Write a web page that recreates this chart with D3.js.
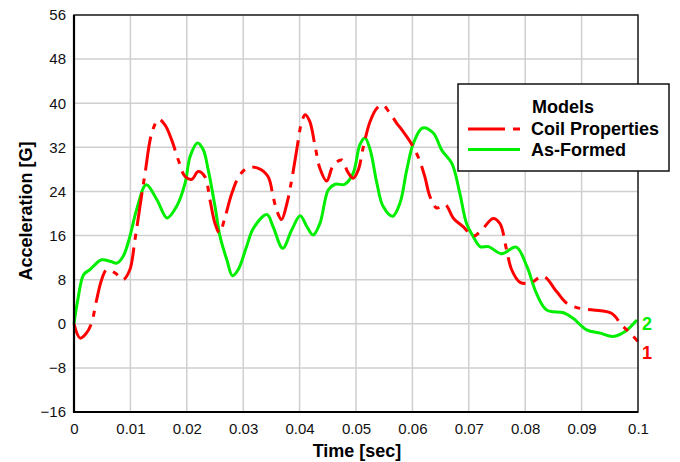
<!DOCTYPE html>
<html>
<head>
<meta charset="utf-8">
<script src="https://cdn.jsdelivr.net/npm/d3@7/dist/d3.min.js"></script>
<style>
  html, body { margin: 0; padding: 0; background: #fff; }
  svg { display: block; font-family: "Liberation Sans", Arial, sans-serif; }
</style>
</head>
<body>
<svg id="chart" width="680" height="462"></svg>
<script>
// ---- data ----
const xTicks = [0, 0.01, 0.02, 0.03, 0.04, 0.05, 0.06, 0.07, 0.08, 0.09, 0.1];
const yTicks = [-16, -8, 0, 8, 16, 24, 32, 40, 48, 56];

const coilTime = [0, 0.0011, 0.0022, 0.0031, 0.004, 0.0049, 0.0058, 0.0073, 0.0087, 0.0099,
  0.0108, 0.0117, 0.0126, 0.0138, 0.015, 0.0161, 0.0173, 0.0185, 0.0197, 0.0209,
  0.022, 0.0232, 0.0241, 0.025, 0.0258, 0.0268, 0.028, 0.0294, 0.0309, 0.0327,
  0.0344, 0.0353, 0.0359, 0.0368, 0.0377, 0.0386, 0.0395, 0.0404, 0.041, 0.0418,
  0.0427, 0.0436, 0.0448, 0.046, 0.0475, 0.0485, 0.0495, 0.0504, 0.0513, 0.0525,
  0.0537, 0.0547, 0.056, 0.0572, 0.0581, 0.0596, 0.061, 0.0622, 0.0631, 0.0643,
  0.0658, 0.0673, 0.069, 0.0708, 0.0723, 0.0743, 0.0755, 0.0767, 0.0776, 0.0791,
  0.0809, 0.0832, 0.0856, 0.0874, 0.0897, 0.0921, 0.0953, 0.0971, 0.0986, 0.1];
const coilAccel = [0, -2.6, -1.7, 0.1, 4.3, 8.0, 9.8, 9.2, 8.0, 9.8,
  15.2, 21.3, 27.3, 34.6, 37.1, 36.1, 33.4, 29.7, 26.7, 26.2,
  27.6, 26.7, 22.5, 18.2, 16.5, 19.4, 23.7, 27.0, 28.3, 28.2,
  26.7, 23.1, 20.7, 18.9, 21.6, 26.1, 31.6, 36.7, 37.9, 36.7,
  32.5, 28.2, 25.9, 28.8, 29.7, 27.6, 26.4, 27.9, 32.1, 36.7,
  39.1, 39.7, 38.2, 36.4, 35.2, 33.0, 30.3, 26.7, 23.1, 21.0,
  21.6, 19.1, 17.6, 15.9, 17.0, 19.1, 18.2, 13.4, 9.8, 7.5,
  7.4, 8.6, 5.8, 3.7, 2.8, 2.5, 1.9, -0.2, -1.7, -3.2];

const formedTime = [0, 0.0007, 0.0017, 0.0028, 0.0049, 0.0065, 0.0076, 0.0087, 0.0099, 0.0111,
  0.0128, 0.0147, 0.0165, 0.0182, 0.0197, 0.0206, 0.0219, 0.0229, 0.0238, 0.025,
  0.0259, 0.0271, 0.0281, 0.0291, 0.0306, 0.0318, 0.0342, 0.0353, 0.037, 0.0386,
  0.0401, 0.0413, 0.0424, 0.0436, 0.0451, 0.0463, 0.048, 0.0495, 0.0507, 0.0516,
  0.0525, 0.0537, 0.0548, 0.0565, 0.0578, 0.059, 0.0602, 0.0618, 0.0637, 0.0652,
  0.067, 0.0684, 0.0696, 0.0708, 0.072, 0.0735, 0.0758, 0.0784, 0.0803, 0.082,
  0.0838, 0.0868, 0.0885, 0.0909, 0.0933, 0.0956, 0.0977, 0.0998];
const formedAccel = [0, 4.5, 8.9, 9.8, 11.6, 11.3, 11.0, 12.2, 15.8, 20.7,
  25.2, 22.5, 19.2, 21.3, 25.5, 30.4, 32.8, 31.6, 27.9, 21.3,
  15.8, 11.6, 8.7, 9.8, 14.0, 17.3, 19.8, 17.6, 13.7, 17.0,
  19.6, 17.6, 16.1, 18.2, 24.3, 25.3, 25.3, 27.3, 32.5, 33.7,
  31.6, 25.5, 21.3, 19.5, 21.9, 27.9, 32.8, 35.5, 34.6, 31.5,
  29.1, 23.7, 18.2, 15.8, 14.0, 14.0, 12.7, 13.9, 10.4, 5.5,
  2.5, 2.0, 1.0, -1.1, -1.7, -2.3, -1.4, 0.7];

const seriesNames = ["Coil Properties", "As-Formed"];
const seriesColors = ["#ff0000", "#00ee00"];
const endLabels = ["1", "2"];

// ---- layout ----
const svg = d3.select("#chart");
const L = 74, R = 638, T = 15, B = 412;
const x = d3.scaleLinear().domain([0, 0.1]).range([L, R]);
const y = d3.scaleLinear().domain([-16, 56]).range([B, T]);

// grid
const grid = svg.append("g");
grid.selectAll("line.v").data(xTicks).enter().append("line")
  .attr("x1", d => x(d)).attr("x2", d => x(d)).attr("y1", T).attr("y2", B)
  .attr("stroke", "#cfcfcf").attr("stroke-width", 1.5);
grid.selectAll("line.h").data(yTicks).enter().append("line")
  .attr("x1", L).attr("x2", R).attr("y1", d => y(d)).attr("y2", d => y(d))
  .attr("stroke", "#cfcfcf").attr("stroke-width", 1.5);

// axes (labels only)
const xAxis = d3.axisBottom(x).tickValues(xTicks).tickSize(0).tickPadding(11)
  .tickFormat(d => d3.format("~g")(+d.toFixed(2)));
const gx = svg.append("g").attr("transform", `translate(0,${B})`).call(xAxis);
gx.select(".domain").remove();
gx.selectAll("text").attr("font-size", 15).attr("fill", "#111")
  .attr("font-family", "'Liberation Sans', Arial, sans-serif");

const yAxis = d3.axisLeft(y).tickValues(yTicks).tickSize(0).tickPadding(8);
const gy = svg.append("g").attr("transform", `translate(${L},0)`).call(yAxis);
gy.select(".domain").remove();
gy.selectAll("text").attr("font-size", 15).attr("fill", "#111")
  .attr("font-family", "'Liberation Sans', Arial, sans-serif");

// lines
const line = d3.line().x(d => x(d[0])).y(d => y(d[1])).curve(d3.curveCatmullRom.alpha(0.5));
const coilData = coilTime.map((t, i) => [t, coilAccel[i]]);
const formedData = formedTime.map((t, i) => [t, formedAccel[i]]);

svg.append("path").datum(formedData).attr("d", line)
  .attr("fill", "none").attr("stroke", seriesColors[1]).attr("stroke-width", 3);
svg.append("path").datum(coilData).attr("d", line)
  .attr("fill", "none").attr("stroke", seriesColors[0]).attr("stroke-width", 3)
  .attr("stroke-dasharray", "34,8,6,8");

// frame
svg.append("rect").attr("x", L).attr("y", T).attr("width", R - L).attr("height", B - T)
  .attr("fill", "none").attr("stroke", "#222").attr("stroke-width", 1.5);
svg.append("line").attr("x1", L).attr("x2", L).attr("y1", T).attr("y2", B + 1)
  .attr("stroke", "#000").attr("stroke-width", 2.2);
svg.append("line").attr("x1", L - 1).attr("x2", R).attr("y1", B).attr("y2", B)
  .attr("stroke", "#000").attr("stroke-width", 2.2);

// end labels
svg.append("text").attr("x", 642).attr("y", y(coilAccel[coilAccel.length - 1]) + 18)
  .text(endLabels[0]).attr("font-size", 18).attr("font-weight", "bold").attr("fill", seriesColors[0]);
svg.append("text").attr("x", 642).attr("y", y(formedAccel[formedAccel.length - 1]) + 10)
  .text(endLabels[1]).attr("font-size", 18).attr("font-weight", "bold").attr("fill", seriesColors[1]);

// axis titles
svg.append("text").attr("x", (L + R) / 2 + 1).attr("y", 456.5).attr("text-anchor", "middle")
  .attr("font-size", 18).attr("font-weight", "bold").attr("fill", "#000").text("Time [sec]");
svg.append("text").attr("transform", `translate(32,211) rotate(-90)`).attr("text-anchor", "middle")
  .attr("font-size", 18).attr("font-weight", "bold").attr("fill", "#000").text("Acceleration [G]");

// legend
const lg = svg.append("g");
lg.append("rect").attr("x", 458).attr("y", 84).attr("width", 211).attr("height", 87)
  .attr("fill", "#fff").attr("stroke", "#111").attr("stroke-width", 1.5);
lg.append("text").attr("x", 563).attr("y", 112.5).attr("text-anchor", "middle")
  .attr("font-size", 18).attr("font-weight", "bold").text("Models");
const legY = [129, 149.5];
seriesNames.forEach((n, i) => {
  lg.append("line").attr("x1", 468).attr("x2", 520).attr("y1", legY[i]).attr("y2", legY[i])
    .attr("stroke", seriesColors[i]).attr("stroke-width", 3)
    .attr("stroke-dasharray", i === 0 ? "37,8,7" : null);
  lg.append("text").attr("x", 531).attr("y", legY[i] + 6.3)
    .attr("font-size", 18).attr("font-weight", "bold").text(n);
});
</script>
</body>
</html>
